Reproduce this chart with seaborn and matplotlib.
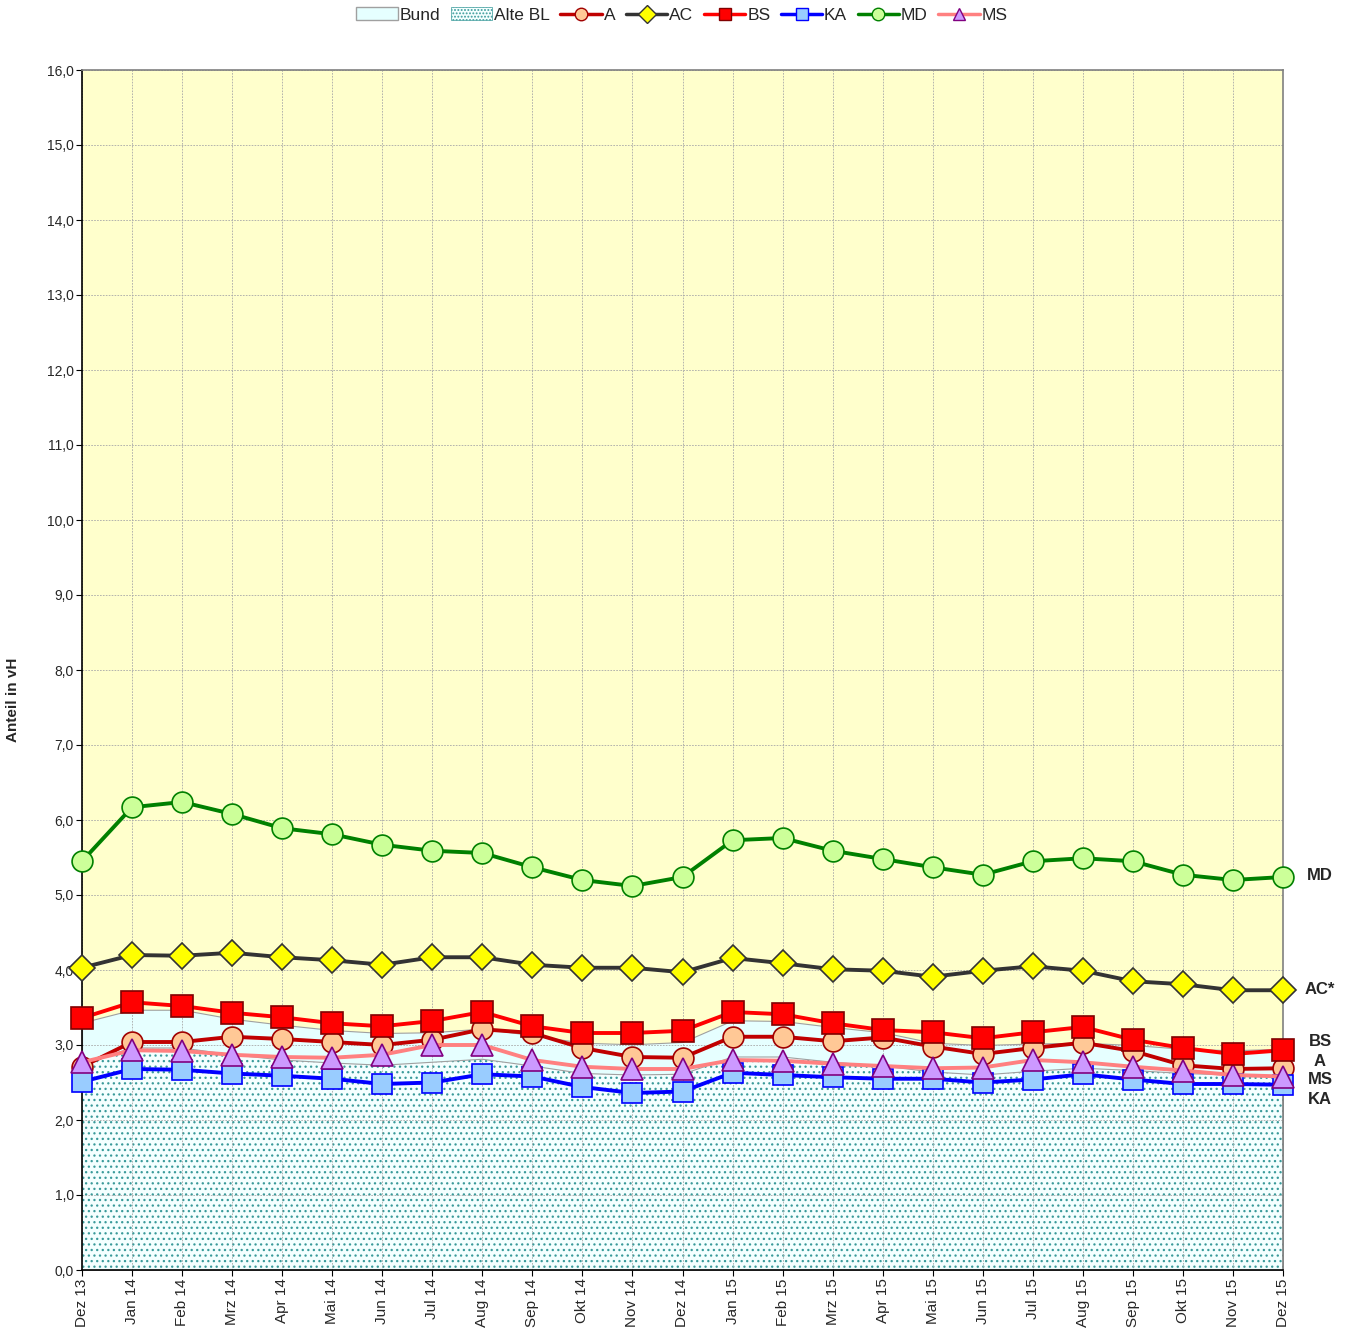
import numpy as np
import pandas as pd
import matplotlib
matplotlib.use("Agg")
import matplotlib.pyplot as plt
from matplotlib.lines import Line2D
from matplotlib.patches import Patch
import seaborn as sns

months = ["Dez 13", "Jan 14", "Feb 14", "Mrz 14", "Apr 14", "Mai 14", "Jun 14", "Jul 14",
          "Aug 14", "Sep 14", "Okt 14", "Nov 14", "Dez 14", "Jan 15", "Feb 15", "Mrz 15",
          "Apr 15", "Mai 15", "Jun 15", "Jul 15", "Aug 15", "Sep 15", "Okt 15", "Nov 15", "Dez 15"]

bund = [3.30, 3.47, 3.47, 3.35, 3.27, 3.20, 3.16, 3.17, 3.22, 3.13, 3.03, 3.01, 3.04,
        3.33, 3.32, 3.24, 3.17, 3.03, 3.00, 3.02, 3.03, 3.00, 2.95, 2.93, 2.95]
alte_bl = [2.75, 2.96, 2.96, 2.87, 2.80, 2.76, 2.73, 2.77, 2.81, 2.72, 2.62, 2.60, 2.61,
           2.84, 2.84, 2.77, 2.72, 2.64, 2.60, 2.65, 2.69, 2.66, 2.62, 2.60, 2.58]
s_a = [2.71, 3.04, 3.04, 3.11, 3.08, 3.04, 3.00, 3.07, 3.21, 3.16, 2.96, 2.84, 2.83,
       3.11, 3.11, 3.05, 3.10, 2.98, 2.88, 2.96, 3.03, 2.92, 2.73, 2.68, 2.69]
s_ac = [4.03, 4.20, 4.19, 4.23, 4.17, 4.13, 4.07, 4.17, 4.17, 4.07, 4.03, 4.03, 3.97,
        4.16, 4.09, 4.01, 3.99, 3.91, 3.99, 4.05, 3.99, 3.85, 3.81, 3.73, 3.73]
s_bs = [3.36, 3.57, 3.52, 3.43, 3.37, 3.29, 3.25, 3.32, 3.44, 3.25, 3.16, 3.16, 3.19,
        3.44, 3.41, 3.29, 3.20, 3.17, 3.09, 3.17, 3.24, 3.07, 2.96, 2.88, 2.93]
s_ka = [2.51, 2.68, 2.67, 2.62, 2.59, 2.55, 2.48, 2.50, 2.61, 2.58, 2.44, 2.36, 2.38,
        2.63, 2.60, 2.57, 2.55, 2.55, 2.50, 2.54, 2.61, 2.54, 2.48, 2.48, 2.47]
s_md = [5.45, 6.17, 6.24, 6.08, 5.89, 5.81, 5.67, 5.59, 5.56, 5.37, 5.20, 5.12, 5.24,
        5.73, 5.76, 5.59, 5.48, 5.37, 5.27, 5.45, 5.49, 5.45, 5.27, 5.20, 5.24]
s_ms = [2.77, 2.93, 2.92, 2.87, 2.84, 2.83, 2.87, 3.00, 3.00, 2.80, 2.71, 2.68, 2.68,
        2.80, 2.79, 2.75, 2.72, 2.69, 2.70, 2.80, 2.77, 2.71, 2.66, 2.60, 2.58]

end_labels = ["MD", "AC*", "BS", "A", "MS", "KA"]
yticks = np.arange(0, 17, 1)
ytick_labels = [f"{v:.1f}".replace(".", ",") for v in yticks]

sns.set_style("white")
plt.rcParams['font.family'] = ['Liberation Sans', 'DejaVu Sans']
plt.rcParams['hatch.linewidth'] = 0.9

TEAL = '#3A9A9A'

fig = plt.figure(figsize=(13.51, 13.28), dpi=100)
ax = fig.add_axes([82/1351, 1 - 1270/1328, (1283-82)/1351, (1270-70)/1328])
ax.set_facecolor('#FFFFCC')

x = np.arange(len(months))
df = pd.DataFrame({"x": x, "A": s_a, "AC": s_ac, "BS": s_bs, "KA": s_ka, "MD": s_md, "MS": s_ms})

# areas
ax.fill_between(x, 0, bund, facecolor='#E6FFFF', edgecolor='#A0A0A0', linewidth=0.8, zorder=0.6)
ax.fill_between(x, 0, alte_bl, facecolor='#F4FFFF', edgecolor='none', linewidth=0, zorder=0.7)
ax.fill_between(x, 0, alte_bl, facecolor='none', edgecolor=TEAL, linewidth=0,
                hatch='...', zorder=0.8)
ax.plot(x, alte_bl, color='#A0A0A0', linewidth=0.8, zorder=0.85)

styles = {
    "A":  dict(color='#C00000', marker='o', mfc='#FFC896', mec='#A00000', ms=15, z=3),
    "KA": dict(color='#0000FF', marker='s', mfc='#99CCFF', mec='#0000FF', ms=15, z=4),
    "MS": dict(color='#FF8080', marker='^', mfc='#CC99FF', mec='#800080', ms=16, z=5),
    "BS": dict(color='#FF0000', marker='s', mfc='#FF0000', mec='#800000', ms=16, z=6),
    "AC": dict(color='#333333', marker='D', mfc='#FFFF00', mec='#333333', ms=13, z=7),
    "MD": dict(color='#008000', marker='o', mfc='#CCFF99', mec='#008000', ms=15, z=8),
}
for name in ["A", "KA", "MS", "BS", "AC", "MD"]:
    st = styles[name]
    sns.lineplot(data=df, x="x", y=name, ax=ax, color=st['color'], linewidth=2.8,
                 marker=st['marker'], markersize=st['ms'], markerfacecolor=st['mfc'],
                 markeredgecolor=st['mec'], markeredgewidth=1.2, zorder=st['z'],
                 legend=False, clip_on=False)

ax.set_xlim(0, 24)
ax.set_ylim(0, 16)
ax.set_xticks(x)
ax.set_xticklabels(months, rotation=90, fontsize=11)
ax.set_yticks(yticks)
ax.set_yticklabels(ytick_labels, fontsize=10)
ax.set_xlabel("")
ax.set_ylabel("Anteil in vH", fontsize=11, fontweight='bold')
ax.yaxis.set_label_coords(-0.052, 0.475)
ax.set_axisbelow('line')
ax.grid(True, color='#A8A8A8', linestyle=(0, (2, 1.5)), linewidth=0.6)
ax.tick_params(axis='both', length=4, direction='out', color='black', pad=2,
               bottom=True, left=True)
for side in ['left', 'bottom']:
    ax.spines[side].set_color('black')
    ax.spines[side].set_linewidth(1.2)
for side in ['top', 'right']:
    ax.spines[side].set_color('#808080')
    ax.spines[side].set_linewidth(1.2)

# end labels
label_y = {"MD": 875, "AC*": 990, "BS": 1041, "A": 1062, "MS": 1080, "KA": 1099}
for lab in end_labels:
    fig.text(1320/1351, 1 - label_y[lab]/1328, lab, fontsize=12, fontweight='bold',
             ha='center', va='center')

handles = [
    Patch(facecolor='#E6FFFF', edgecolor='#A0A0A0', label='Bund'),
    Patch(facecolor='#F4FFFF', edgecolor=TEAL, hatch='.....', linewidth=0.5, label='Alte BL'),
]
for name in ["A", "AC", "BS", "KA", "MD", "MS"]:
    st = styles[name]
    handles.append(Line2D([0], [0], color=st['color'], linewidth=2.5, marker=st['marker'],
                          markersize=9, markerfacecolor=st['mfc'], markeredgecolor=st['mec'],
                          label=name))
fig.legend(handles=handles, loc='center', bbox_to_anchor=(682/1351, 1 - 15/1328), ncol=8,
           frameon=False, fontsize=12.5, handlelength=2.4, handletextpad=0.1, columnspacing=0.6)

fig.savefig("out.png", dpi=100)
